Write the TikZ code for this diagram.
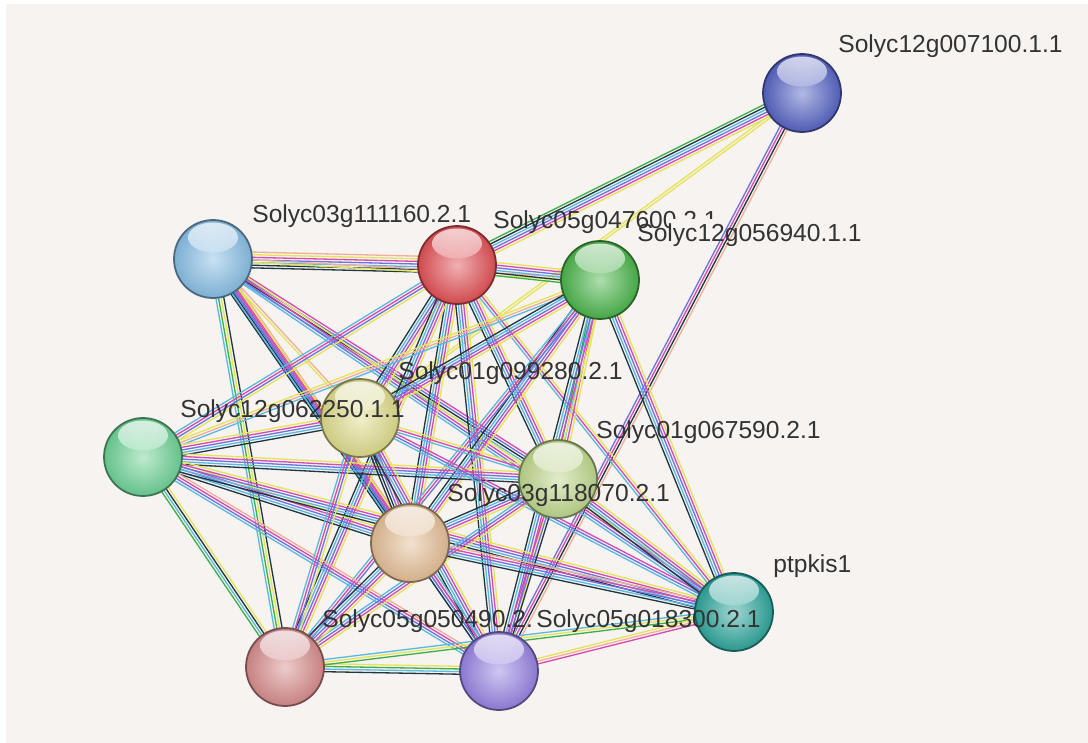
\documentclass[tikz,border=0pt]{standalone}
\usepackage{fontspec}
\setmainfont{Liberation Sans}
\usetikzlibrary{calc}

\pgfdeclarelayer{edges}
\pgfsetlayers{edges,main}

% page and evidence colours
\definecolor{bgc}{RGB}{247,243,240}
\definecolor{gn}{RGB}{60,175,70}
\definecolor{bk}{RGB}{30,55,65}
\definecolor{cy}{RGB}{90,185,225}
\definecolor{bl}{RGB}{110,115,225}
\definecolor{mg}{RGB}{215,75,175}
\definecolor{yl}{RGB}{228,228,90}
\definecolor{pe}{RGB}{240,175,150}

% protein colours
\definecolor{cA}{RGB}{85,100,195}
\definecolor{cB}{RGB}{135,190,228}
\definecolor{cC}{RGB}{225,80,85}
\definecolor{cD}{RGB}{75,180,75}
\definecolor{cE}{RGB}{110,210,150}
\definecolor{cF}{RGB}{222,220,140}
\definecolor{cG}{RGB}{190,215,140}
\definecolor{cH}{RGB}{228,190,150}
\definecolor{cI}{RGB}{45,165,155}
\definecolor{cJ}{RGB}{215,140,140}
\definecolor{cK}{RGB}{150,130,225}

\tikzset{
  prot/.style={circle, minimum size=1.56cm, inner sep=0pt, line width=1pt,
    draw=#1!55!black, inner color=#1!45!white, outer color=#1!92!black,
    path picture={
      \shade[top color=white, bottom color=#1, opacity=0.75]
        ([yshift=0.43cm]path picture bounding box.center) ellipse (0.5cm and 0.3cm);
    }},
  lab/.style={font=\fontsize{14}{16}\selectfont, text=black!80, inner sep=0pt, anchor=west},
  evid/.style={line width=0.75pt}
}

% one bundle of evidence lines between two proteins
\newcommand\bund[3]{%
  \edef\blist{#3}%
  \foreach \c [count=\n] in \blist {\xdef\bn{\n}}%
  \foreach \c [count=\i] in \blist {%
    \pgfmathsetmacro\off{(\i-(\bn+1)/2)*1.5}%
    \draw[evid, \c] ($(#1.center)!\off pt!90:(#2.center)$) -- ($(#2.center)!\off pt!-90:(#1.center)$);
  }}

\begin{document}
\begin{tikzpicture}[x=0.02cm, y=-0.02cm]
  \def\full{gn,bk,cy,bl,mg,yl}
  \def\std{bk,cy,bl,mg,yl}
  \useasboundingbox (0,0) rectangle (1088,743);

  % proteins
  \node[prot=cA] (s007) at (802,93) {};
  \node[prot=cB] (s111) at (213,259) {};
  \node[prot=cC] (s047) at (457,265) {};
  \node[prot=cD] (s056) at (600,280) {};
  \node[prot=cE] (s062) at (143,457) {};
  \node[prot=cF] (s099) at (360,418) {};
  \node[prot=cG] (s067) at (558,479) {};
  \node[prot=cH] (s118) at (410,543) {};
  \node[prot=cI] (ptp) at (734,612) {};
  \node[prot=cJ] (s050) at (285,667) {};
  \node[prot=cK] (s018) at (499,671) {};

  % labels
  \node[lab] (t007) at ([shift={(36,-47)}]s007.center) {Solyc12g007100.1.1};
  \node[lab] (t111) at ([shift={(39,-43)}]s111.center) {Solyc03g111160.2.1};
  \begin{scope}
    \clip (0,0) -- (1088,0) -- (1088,219) -- (670,219) -- (670,240) -- (0,240) -- cycle;
    \node[lab] (t047) at ([shift={(36,-43)}]s047.center) {Solyc05g047600.2.1};
  \end{scope}
  \node[lab] (t056) at ([shift={(37,-45)}]s056.center) {Solyc12g056940.1.1};
  \node[lab] (t062) at ([shift={(37,-46)}]s062.center) {Solyc12g062250.1.1};
  \node[lab] (t099) at ([shift={(38,-45)}]s099.center) {Solyc01g099280.2.1};
  \node[lab] (t067) at ([shift={(38,-47)}]s067.center) {Solyc01g067590.2.1};
  \node[lab] (t118) at ([shift={(37,-48)}]s118.center) {Solyc03g118070.2.1};
  \node[lab] (tptp) at ([shift={(39,-46)}]ptp.center) {ptpkis1};
  \node[lab] (t050) at ([shift={(37,-46)}]s050.center) {Solyc05g050490.2.};
  \node[lab] (t018) at ([shift={(37,-50)}]s018.center) {Solyc05g018300.2.1};

  \begin{pgfonlayer}{edges}
    \fill[white] (0,0) rectangle (1088,743);
    \fill[bgc] (6,4) rectangle (1088,743);

    % Solyc12g007100.1.1
    \bund{s007}{s047}{\full}
    \bund{s007}{s099}{yl,yl}
    \bund{s007}{s018}{bl,mg,bk,pe}
    % Solyc03g111160.2.1
    \bund{s111}{s047}{bk,bk,cy,bl,mg,yl,pe}
    \bund{s111}{s056}{yl,pe}
    \bund{s111}{s050}{cy,gn,yl,bk}
    \bund{s111}{s118}{bk,bk,bl,mg,pe}
    \bund{s111}{s018}{cy,bl,mg,yl}
    \bund{s111}{s067}{cy,bk,bl,mg}
    \bund{s111}{ptp}{cy,bl,mg,yl}
    \bund{s111}{s099}{yl,pe}
    % Solyc05g047600.2.1
    \bund{s047}{s056}{\full}
    \bund{s047}{s062}{cy,mg,bl,yl}
    \bund{s047}{s099}{\std}
    \bund{s047}{s067}{\std}
    \bund{s047}{s118}{\std}
    \bund{s047}{s050}{\std}
    \bund{s047}{s018}{\std}
    \bund{s047}{ptp}{cy,mg,yl}
    % Solyc12g056940.1.1
    \bund{s056}{s062}{yl,pe,cy}
    \bund{s056}{s099}{\std}
    \bund{s056}{s067}{gn,cy,mg,yl}
    \bund{s056}{s118}{\std}
    \bund{s056}{s050}{cy,mg,bl}
    \bund{s056}{s018}{\std}
    \bund{s056}{ptp}{bk,cy,bl,mg,yl}
    % Solyc12g062250.1.1
    \bund{s062}{s099}{\std}
    \bund{s062}{s067}{\std}
    \bund{s062}{s118}{\std}
    \bund{s062}{ptp}{\std}
    \bund{s062}{s050}{gn,cy,bk,yl}
    \bund{s062}{s018}{cy,bl,mg,pe}
    % Solyc01g099280.2.1
    \bund{s099}{s118}{bk,bk,bl,mg}
    \bund{s099}{s018}{\std}
    \bund{s099}{s067}{cy,mg,yl}
    \bund{s099}{ptp}{cy,bl,mg}
    \bund{s099}{s050}{cy,mg,bl,yl}
    % Solyc01g067590.2.1
    \bund{s067}{s118}{\std}
    \bund{s067}{ptp}{\std}
    \bund{s067}{s050}{cy,bl,mg,yl}
    \bund{s067}{s018}{mg,bl,bk}
    % Solyc03g118070.2.1
    \bund{s118}{ptp}{bk,cy,bl,mg,pe}
    \bund{s118}{s050}{\std}
    \bund{s118}{s018}{bk,bl,mg,cy}
    % bottom row
    \bund{s050}{s018}{bk,cy,gn,yl}
    \bund{s050}{ptp}{gn,yl,cy}
    \bund{s018}{ptp}{mg,pe,yl}
  \end{pgfonlayer}
\end{tikzpicture}
\end{document}
